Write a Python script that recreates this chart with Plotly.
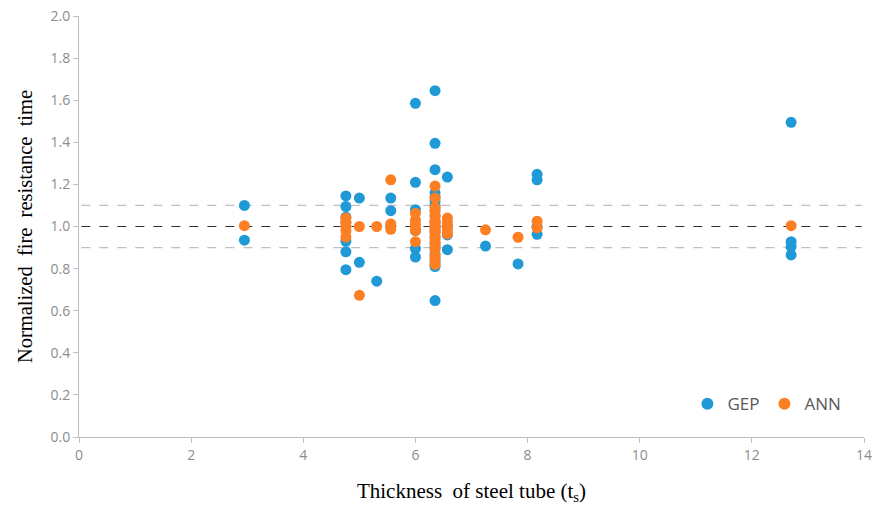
import plotly.graph_objects as go

# GEP data (thickness, normalized fire resistance time)
gep_x = [2.95, 2.95,
         4.76, 4.76, 4.76, 4.76, 4.76, 4.76, 4.76,
         5.0, 5.0,
         5.31,
         5.56, 5.56, 5.56,
         6.0, 6.0, 6.0, 6.0, 6.0, 6.0,
         6.35, 6.35, 6.35, 6.35, 6.35, 6.35, 6.35, 6.35, 6.35, 6.35, 6.35, 6.35, 6.35, 6.35, 6.35, 6.35, 6.35, 6.35, 6.35, 6.35,
         6.57, 6.57, 6.57, 6.57,
         7.25,
         7.83,
         8.17, 8.17, 8.17, 8.17,
         12.7, 12.7, 12.7, 12.7]
gep_y = [1.10, 0.935,
         1.145, 1.095, 1.045, 1.02, 0.93, 0.88, 0.795,
         1.135, 0.83,
         0.74,
         1.135, 1.075, 1.0,
         1.585, 1.21, 1.08, 0.98, 0.895, 0.855,
         1.645, 1.395, 1.27, 1.16, 1.14, 1.12, 1.10, 1.08, 1.05, 1.02, 1.0, 0.98, 0.95, 0.92, 0.90, 0.87, 0.85, 0.83, 0.81, 0.648,
         1.235, 1.0, 0.96, 0.89,
         0.907,
         0.822,
         1.248, 1.222, 1.0, 0.963,
         1.495, 0.928, 0.904, 0.865]

# ANN data
ann_x = [2.95,
         4.76, 4.76, 4.76, 4.76, 4.76,
         5.0, 5.0,
         5.31,
         5.56, 5.56, 5.56,
         6.0, 6.0, 6.0, 6.0, 6.0, 6.0,
         6.35, 6.35, 6.35, 6.35, 6.35, 6.35, 6.35, 6.35, 6.35, 6.35, 6.35, 6.35, 6.35, 6.35, 6.35, 6.35, 6.35, 6.35, 6.35, 6.35,
         6.57, 6.57, 6.57, 6.57, 6.57,
         7.25,
         7.83,
         8.17, 8.17,
         12.7]
ann_y = [1.004,
         1.04, 1.02, 1.0, 0.98, 0.95,
         1.0, 0.673,
         1.0,
         1.222, 1.012, 0.987,
         1.063, 1.03, 1.01, 0.99, 0.98, 0.928,
         1.192, 1.135, 1.09, 1.07, 1.05, 1.03, 1.02, 1.01, 1.0, 0.99, 0.98, 0.97, 0.96, 0.945, 0.93, 0.91, 0.89, 0.86, 0.84, 0.82,
         1.04, 1.02, 1.0, 0.98, 0.965,
         0.984,
         0.949,
         1.025, 0.994,
         1.004]

x_ticks = [0, 2, 4, 6, 8, 10, 12, 14]
y_ticks = [0.0, 0.2, 0.4, 0.6, 0.8, 1.0, 1.2, 1.4, 1.6, 1.8, 2.0]
ref_lines = [0.9, 1.0, 1.1]

fig = go.Figure()
fig.add_trace(go.Scatter(x=gep_x, y=gep_y, mode="markers", name="GEP",
                         marker=dict(color="#1f9ad6", size=11)))
fig.add_trace(go.Scatter(x=ann_x, y=ann_y, mode="markers", name="ANN",
                         marker=dict(color="#fd7f23", size=11)))

for v in ref_lines:
    fig.add_shape(type="line", xref="paper", x0=0.003, x1=0.997, yref="y", y0=v, y1=v,
                  line=dict(color="#333333" if v == 1.0 else "#bfbfbf", width=1.2, dash="dash"),
                  layer="below")

fig.update_layout(
    width=881, height=508,
    margin=dict(l=79, r=17, t=16, b=71, autoexpand=False),
    paper_bgcolor="white", plot_bgcolor="white",
    showlegend=True,
    legend=dict(orientation="h", x=0.775, y=0.035, xanchor="left", yanchor="bottom",
                font=dict(family="Open Sans", size=17, color="#595959"),
                itemwidth=30, tracegroupgap=0,
                itemsizing="constant", bgcolor="rgba(0,0,0,0)"),
    xaxis=dict(range=[0, 14], tickvals=x_ticks, ticktext=[str(t) for t in x_ticks],
               automargin=False,
               showgrid=False, zeroline=False, showline=True, linecolor="#bfbfbf", linewidth=1,
               ticks="outside", ticklen=5, tickcolor="#bfbfbf",
               tickfont=dict(family="Open Sans", size=14, color="#8c8c8c"),
               title=dict(text="Thickness  of steel tube (t<sub>s</sub>)",
                          font=dict(family="Liberation Serif", size=21, color="black"),
                          standoff=20)),
    yaxis=dict(range=[0, 2.0], tickvals=y_ticks, ticktext=[f"{t:.1f}" for t in y_ticks],
               automargin=False, ticklabeloverflow="allow",
               showgrid=False, zeroline=False, showline=True, linecolor="#bfbfbf", linewidth=1,
               ticks="outside", ticklen=5, tickcolor="#bfbfbf",
               tickfont=dict(family="Open Sans", size=14, color="#8c8c8c"),
               title=dict(text="Normalized  fire  resistance  time",
                          font=dict(family="Liberation Serif", size=20.5, color="black"),
                          standoff=12)),
)

fig.write_html("out.html", config={"displayModeBar": False},
               post_script="document.body.style.margin='0';document.body.style.overflow='hidden';")
